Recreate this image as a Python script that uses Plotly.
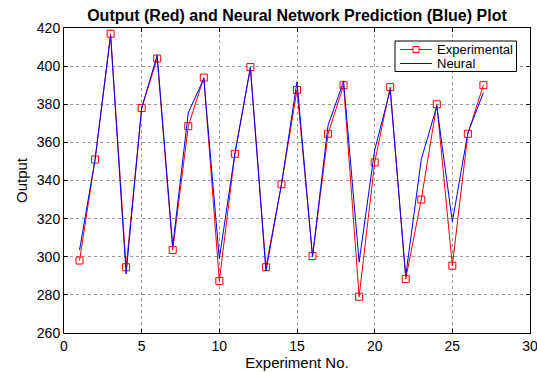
import plotly.graph_objects as go

experiment = list(range(1, 28))
experimental = [298, 351, 417, 294.5, 378, 404, 303.5, 368.5, 394, 287.3, 354, 399.5, 294.5, 338,
                387.5, 300.4, 364.5, 390, 279, 349.5, 389, 288.3, 330, 380, 295.3, 364.5, 390]
neural = [303.5, 351, 416, 291, 378, 405.8, 305.5, 375.5, 393.5, 299, 354, 399, 292.5, 338,
          391.8, 300, 369, 392, 297.2, 356, 387.5, 290, 351, 379, 318.4, 365, 386.1]
legend_labels = ["Experimental", "Neural"]

FONT = "Liberation Sans, Arial"
W, H = 537, 372
ML, MR, MT, MB = 64, 7, 28, 39
PW, PH = W - ML - MR, H - MT - MB


def px(xp):
    return (xp - ML) / PW


def py(yp):
    return (H - MB - yp) / PH


fig = go.Figure()
fig.add_trace(go.Scatter(x=experiment, y=experimental, mode="lines+markers", name=legend_labels[0],
                         line=dict(color="red", width=1),
                         marker=dict(symbol="square-open", size=7, color="red", line=dict(width=1))))
fig.add_trace(go.Scatter(x=experiment, y=neural, mode="lines", name=legend_labels[1],
                         line=dict(color="blue", width=1)))

axis_common = dict(showgrid=True, gridcolor="#999999", griddash="dot", gridwidth=1,
                   showline=True, linecolor="black", linewidth=1, mirror="ticks",
                   ticks="inside", ticklen=4, tickcolor="black", zeroline=False,
                   ticklabeloverflow="allow",
                   tickfont=dict(family=FONT, size=14, color="black"))

# compact legend box (drawn in paper coordinates)
shapes = [
    dict(type="rect", xref="paper", yref="paper", x0=px(395), x1=px(516.5), y0=py(71.5), y1=py(41),
         line=dict(color="black", width=1), fillcolor="white", layer="above"),
    dict(type="line", xref="paper", yref="paper", x0=px(400), x1=px(432), y0=py(49.5), y1=py(49.5),
         line=dict(color="red", width=1), layer="above"),
    dict(type="rect", xref="paper", yref="paper", x0=px(413), x1=px(419), y0=py(52.5), y1=py(46.5),
         line=dict(color="red", width=1), fillcolor="white", layer="above"),
    dict(type="line", xref="paper", yref="paper", x0=px(400), x1=px(432), y0=py(63.5), y1=py(63.5),
         line=dict(color="blue", width=1), layer="above"),
]
annotations = [
    dict(text=legend_labels[0], xref="paper", yref="paper", x=px(435), y=py(49.5),
         xanchor="left", yanchor="middle", showarrow=False,
         font=dict(family=FONT, size=13, color="black")),
    dict(text=legend_labels[1], xref="paper", yref="paper", x=px(435), y=py(63.5),
         xanchor="left", yanchor="middle", showarrow=False,
         font=dict(family=FONT, size=13, color="black")),
]

fig.update_layout(
    width=W, height=H,
    margin=dict(l=ML, r=MR, t=MT, b=MB, autoexpand=False),
    paper_bgcolor="white", plot_bgcolor="white",
    title=dict(text="<b>Output (Red) and Neural Network Prediction (Blue) Plot</b>",
               x=0.553, xanchor="center", y=0.975, yanchor="top",
               font=dict(family=FONT, size=16, color="black")),
    xaxis=dict(range=[0, 30], dtick=5, title=dict(text="Experiment No.", standoff=1,
               font=dict(family=FONT, size=15, color="black")), **axis_common),
    yaxis=dict(range=[260, 420], dtick=20, title=dict(text="Output", standoff=5,
               font=dict(family=FONT, size=15, color="black")), **axis_common),
    showlegend=False,
    shapes=shapes,
    annotations=annotations,
)

fig.write_html("out.html")
